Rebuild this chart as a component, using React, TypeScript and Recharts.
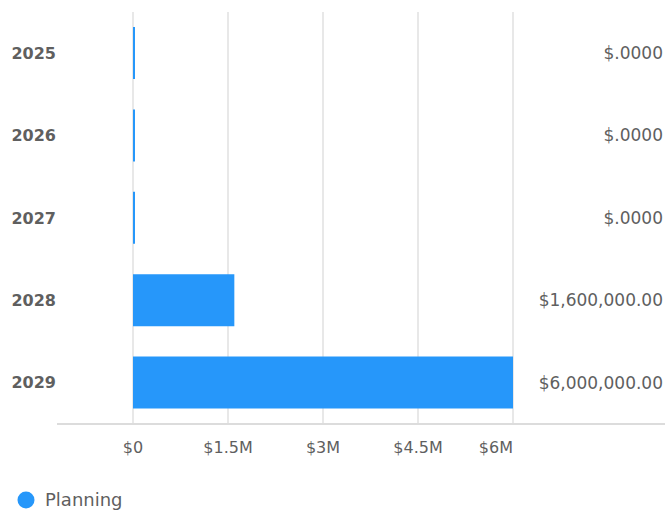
import { BarChart, Bar, XAxis, YAxis, Legend, CartesianGrid, LabelList } from "recharts";

const years = ["2025", "2026", "2027", "2028", "2029"];
const planning = [0, 0, 0, 1600000, 6000000];
const totalLabels = ["$.0000", "$.0000", "$.0000", "$1,600,000.00", "$6,000,000.00"];
const xTicks = [0, 1500000, 3000000, 4500000, 6000000];
const xTickLabels = ["$0", "$1.5M", "$3M", "$4.5M", "$6M"];

const data = years.map((year, i) => ({
  year,
  planning: planning[i],
  total: totalLabels[i],
}));

const BLUE = "#2697fa";
const TEXT = "#5f5f5f";
const GRID = "#e0e0e0";
const FONT = "'DejaVu Sans', sans-serif";
const CHART_W = 665;

function XTick(props: any) {
  const { x, y, payload, index } = props;
  const last = index === xTicks.length - 1;
  return (
    <text
      x={x}
      y={y}
      dy="0.71em"
      textAnchor={last ? "end" : "middle"}
      fill={TEXT}
      fontSize={16}
      fontFamily={FONT}
    >
      {xTickLabels[xTicks.indexOf(payload.value)]}
    </text>
  );
}

function YearTick(props: any) {
  const { x, y, payload } = props;
  return (
    <text
      x={x}
      y={y}
      dy="0.355em"
      textAnchor="end"
      fill={TEXT}
      fontSize={16}
      fontWeight="bold"
      fontFamily={FONT}
    >
      {payload.value}
    </text>
  );
}

// total shown at the right edge of the chart, level with each bar
function TotalLabel(props: any) {
  const { y, height, value } = props;
  return (
    <text
      x={CHART_W - 2}
      y={y + height / 2}
      dy="0.355em"
      textAnchor="end"
      fill={TEXT}
      fontSize={17}
      fontFamily={FONT}
    >
      {value}
    </text>
  );
}

function LegendContent() {
  return (
    <svg width={200} height={49}>
      <circle cx={26} cy={36} r={8.5} fill={BLUE} />
      <text x={45} y={36} dy="0.355em" fill={TEXT} fontSize={18} fontFamily={FONT}>
        Planning
      </text>
    </svg>
  );
}

export default function App() {
  return (
    <div style={{ position: "absolute", left: 0, top: 0, width: CHART_W, height: 513, background: "#fff" }}>
      <BarChart
        width={CHART_W}
        height={513}
        data={data}
        layout="vertical"
        margin={{ top: 12, right: 0, left: 0, bottom: 0 }}
        barSize={52}
      >
        <CartesianGrid horizontal={false} stroke={GRID} strokeWidth={1.5} syncWithTicks />
        <XAxis
          type="number"
          domain={[0, 6000000]}
          ticks={xTicks}
          padding={{ left: 76, right: 152 }}
          height={40}
          tickLine={false}
          tickSize={0}
          tickMargin={18}
          axisLine={{ stroke: "#dcdcdc", strokeWidth: 2 }}
          tick={<XTick />}
        />
        <YAxis
          type="category"
          dataKey="year"
          width={57}
          axisLine={false}
          tickLine={false}
          tickSize={0}
          tickMargin={1}
          tick={<YearTick />}
        />
        <Legend
          verticalAlign="bottom"
          align="left"
          wrapperStyle={{ height: 49, left: 0, bottom: 0 }}
          content={<LegendContent />}
        />
        <Bar
          dataKey="planning"
          name="Planning"
          fill={BLUE}
          minPointSize={2}
          isAnimationActive={false}
        >
          <LabelList dataKey="total" content={<TotalLabel />} />
        </Bar>
      </BarChart>
    </div>
  );
}
